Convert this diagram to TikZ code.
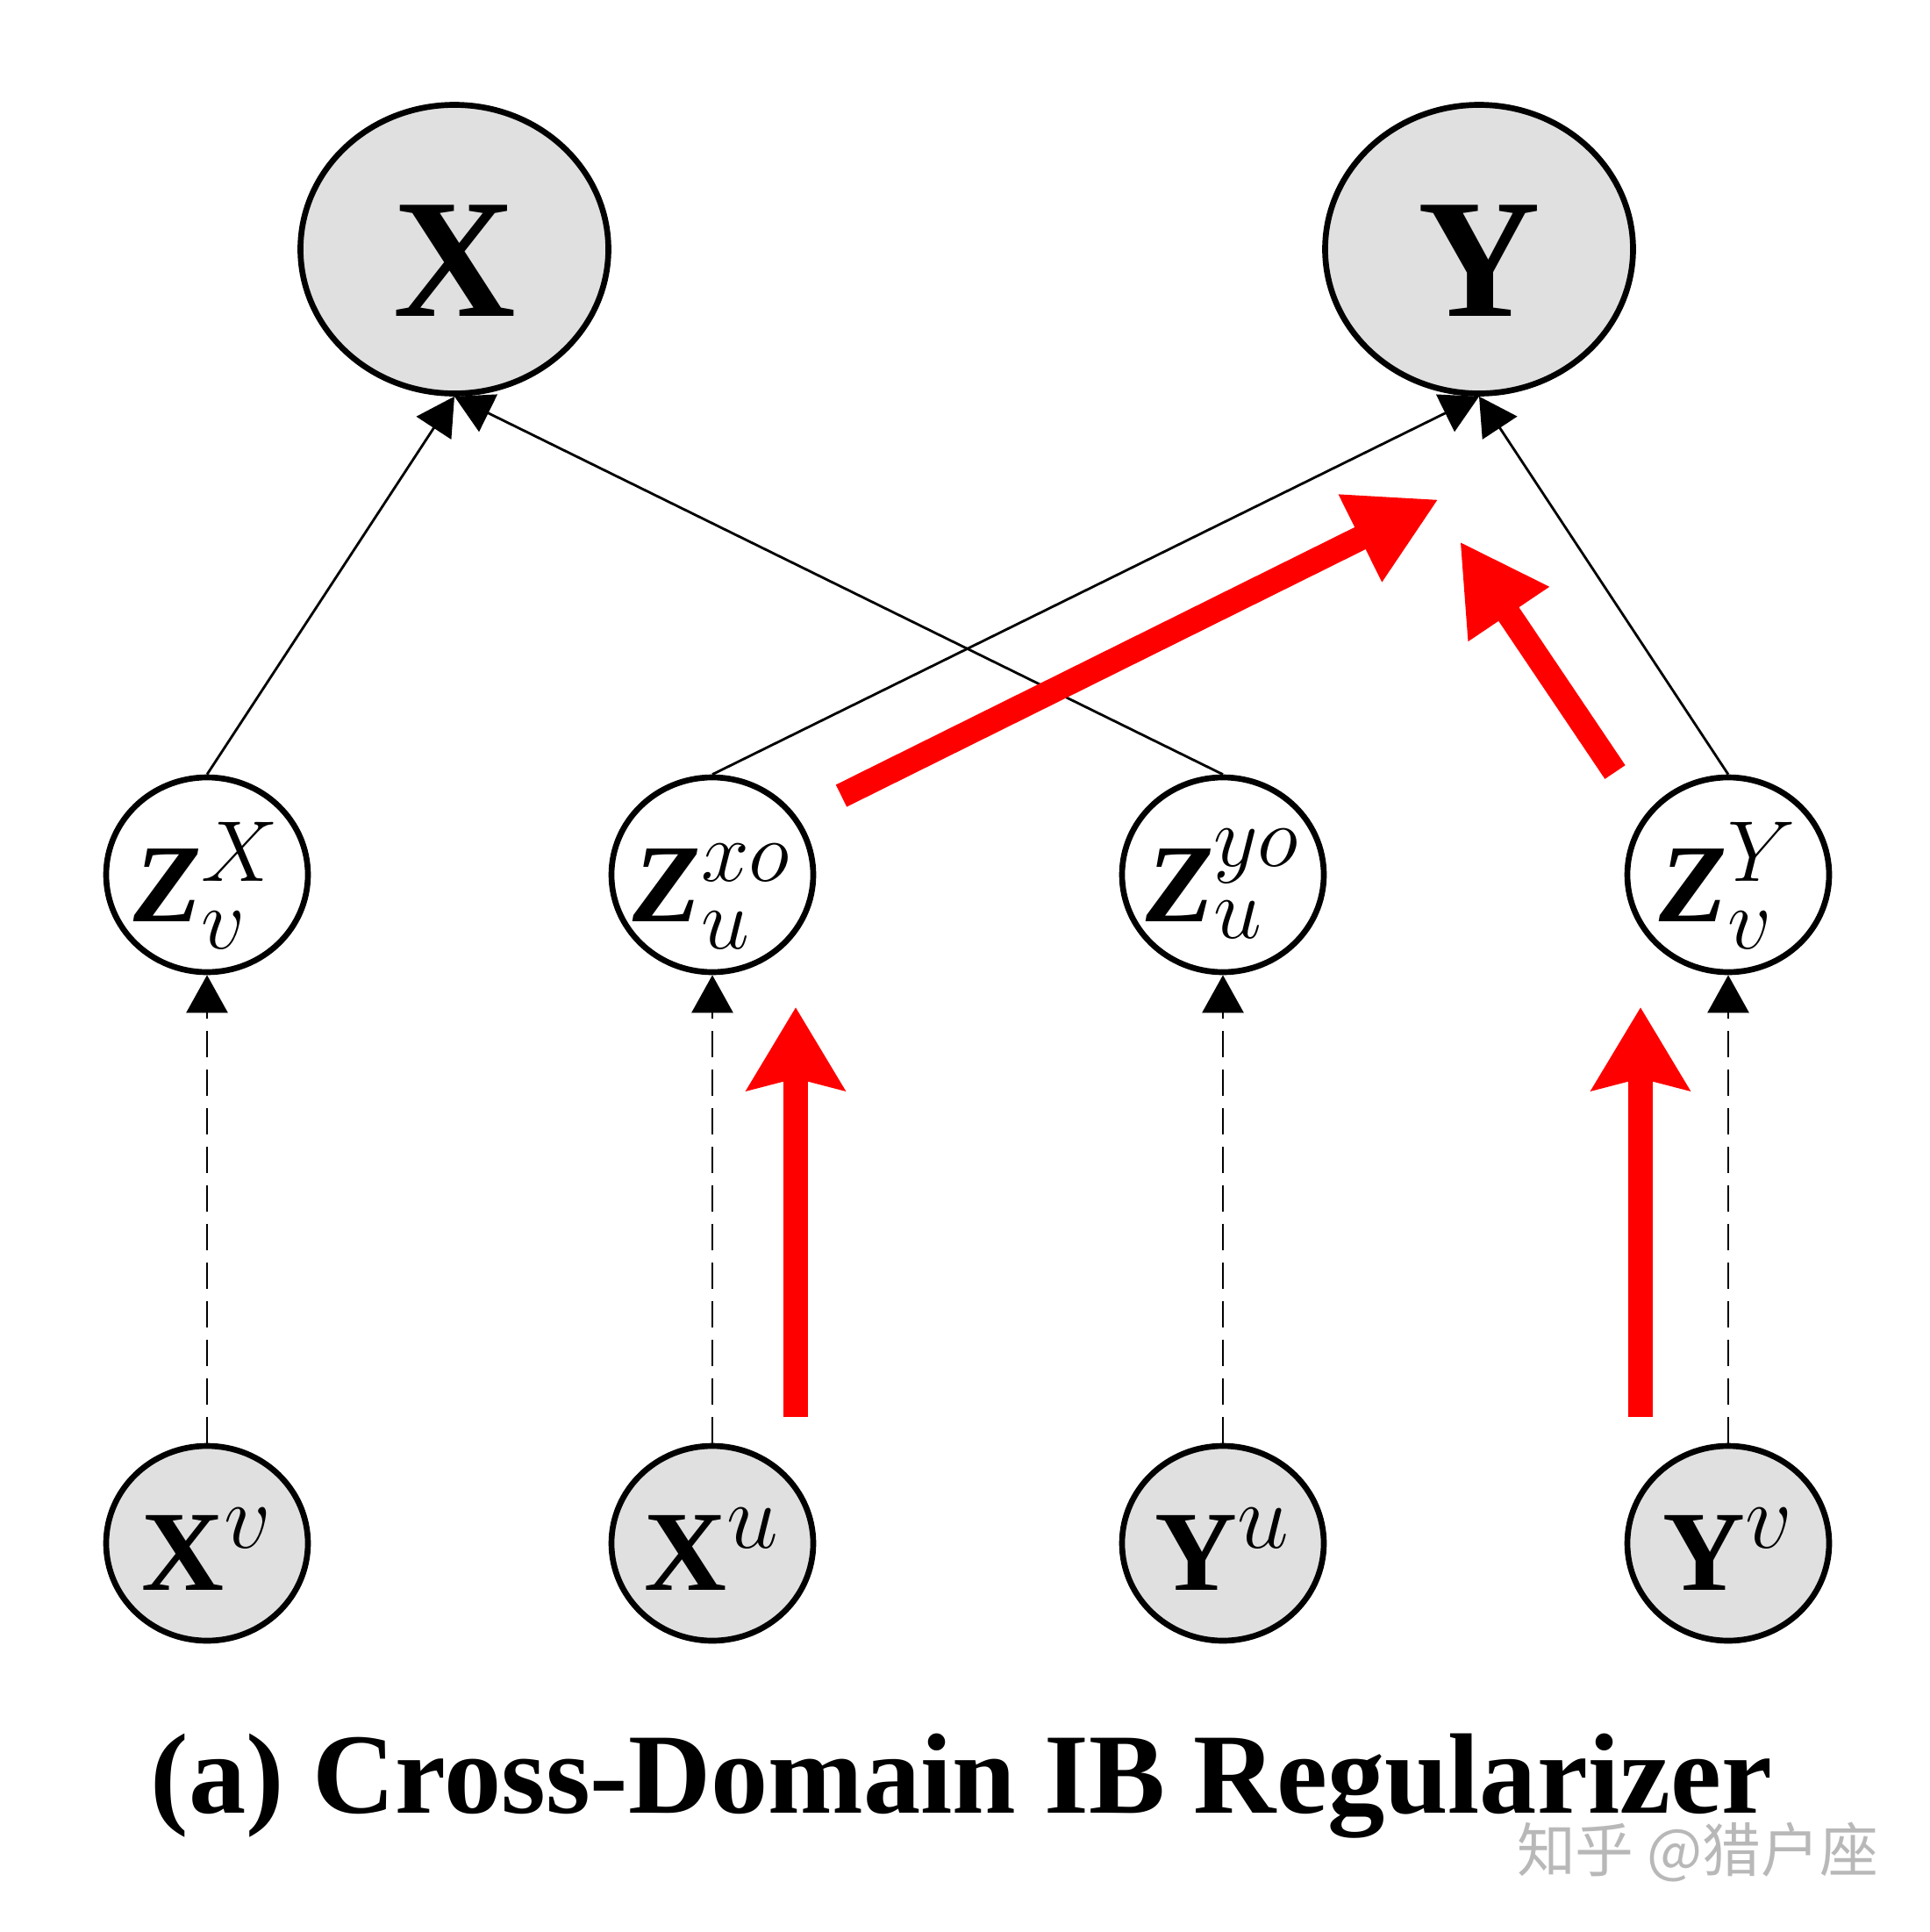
\RequirePackage{fix-cm}
\documentclass[tikz,border=0pt]{standalone}
\usepackage{amsmath}
\usepackage{amssymb}
\usepackage{fontspec}
\setmainfont{Liberation Serif}
\newfontfamily\cjk{Noto Sans CJK SC}
\usetikzlibrary{arrows.meta}
\usetikzlibrary{shapes.geometric}
\usetikzlibrary{positioning}
\DeclareMathSizes{36}{36}{28}{20}
\DeclareMathSizes{37}{37}{30}{21}
\newcommand{\bz}{\textbf{\textit{Z}}}

\begin{document}
\begin{tikzpicture}[
	bignode/.style={ellipse, draw, line width=1.9pt, fill=black!12, inner sep=0pt, minimum width=3.51cm, minimum height=3.29cm, text height=1.53cm, text depth=0pt, font=\bfseries\fontsize{55}{60}\selectfont},
	smallnode/.style={ellipse, draw, line width=1.9pt, inner sep=0pt, minimum width=2.3cm, minimum height=2.22cm, text width=0pt, align=center, text height=1.06cm, text depth=0pt},
	latent/.style={smallnode, fill=white, font=\fontsize{36}{40}\selectfont},
	observed/.style={smallnode, fill=black!12, font=\fontsize{37}{40}\selectfont},
	link/.style={line width=0.8pt, -{Triangle[length=0.43cm, width=0.47cm]}},
	dlink/.style={link, dash pattern=on 0.3cm off 0.14cm},
	redarrow/.style={red, line width=0.28cm, -{Triangle[length=1.0cm, width=1.04cm]}},
	redup/.style={red, line width=0.28cm, -{Stealth[length=0.94cm, width=1.1cm, inset=0.13cm]}}
	]
			\useasboundingbox (0, 0) rectangle (22, -22.02);
			\node [bignode] (X) at (5.18, -2.84) {X};
			\node [bignode] (Y) at (16.86, -2.84) {Y};
			\node [latent] (zvx) at (2.36, -9.97) {\makebox[0pt]{$\bz_v^{X}$}};
			\node [latent] (zxo) at (8.12, -9.97) {\makebox[0pt]{$\bz_u^{xo}$}};
			\node [latent] (zyo) at (13.94, -9.97) {\makebox[0pt]{$\bz_u^{yo}$}};
			\node [latent] (zvy) at (19.70, -9.97) {\makebox[0pt]{$\bz_v^{Y}$}};
			\node [observed] (xv) at (2.36, -17.59) {\makebox[0pt]{$\textbf{X}^{v}$}};
			\node [observed] (xu) at (8.12, -17.59) {\makebox[0pt]{$\textbf{X}^{u}$}};
			\node [observed] (yu) at (13.94, -17.59) {\makebox[0pt]{$\textbf{Y}^{u}$}};
			\node [observed] (yv) at (19.70, -17.59) {\makebox[0pt]{$\textbf{Y}^{v}$}};
			\node [anchor=base, font=\bfseries\fontsize{37.1}{44}\selectfont] (caption) at (10.96, -20.66) {(a) Cross-Domain IB Regularizer};
			\node [text=black!28, font=\cjk\fontsize{19}{20}\selectfont] (mark) at (19.35, -21.11) {知乎 @猎户座};
			\coordinate (r1a) at (9.59, -9.07);
			\coordinate (r1b) at (16.40, -5.69);
			\coordinate (r2a) at (18.41, -8.80);
			\coordinate (r2b) at (16.64, -6.17);
			\coordinate (r3a) at (9.07, -16.15);
			\coordinate (r3b) at (9.07, -11.48);
			\coordinate (r4a) at (18.70, -16.15);
			\coordinate (r4b) at (18.70, -11.48);
			\draw [link] (zvx.north) to (X.south);
			\draw [link] (zyo.north) to (X.south);
			\draw [link] (zxo.north) to (Y.south);
			\draw [link] (zvy.north) to (Y.south);
			\draw [dlink] (xv.north) to (zvx.south);
			\draw [dlink] (xu.north) to (zxo.south);
			\draw [dlink] (yu.north) to (zyo.south);
			\draw [dlink] (yv.north) to (zvy.south);
			\draw [redarrow] (r1a) to (r1b);
			\draw [redarrow] (r2a) to (r2b);
			\draw [redup] (r3a) to (r3b);
			\draw [redup] (r4a) to (r4b);
			\end{tikzpicture}
\end{document}
